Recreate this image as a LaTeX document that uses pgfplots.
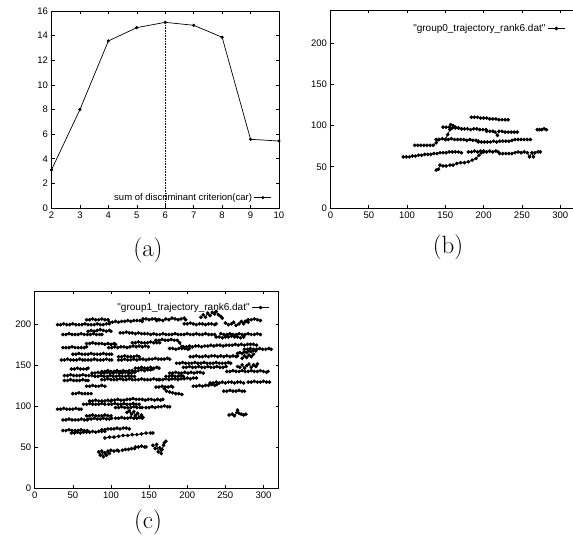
\documentclass[border=0pt]{standalone}
\usepackage{fontspec}
\usepackage{pgfplots}
\pgfplotsset{compat=1.18}
\newfontfamily\gp{Liberation Sans}

\pgfplotsset{
  gpstyle/.style={
    scale only axis, anchor=south west,
    axis line style={line width=0.8pt},
    tick style={black, line width=0.6pt},
    major tick length=3pt,
    tick label style={font=\gp\fontsize{9.5}{11}\selectfont},
    /pgf/number format/assume math mode=true,
    legend style={draw=none, fill=none, font=\gp\fontsize{9.5}{11}\selectfont},
    legend cell align=right, legend plot pos=right,
    unbounded coords=jump,
  },
  traj/.style={black, line width=0.8pt, mark=*, mark size=1.4pt},
}

\begin{document}
\begin{tikzpicture}
\path[use as bounding box] (0,0) rectangle (573pt,-539pt);

% (a) criterion curve
\begin{axis}[gpstyle, at={(51.5pt,-208pt)}, width=227.5pt, height=197pt,
  xmin=2, xmax=10, ymin=0, ymax=16,
  xtick={2,...,10}, ytick={0,2,...,16},
  legend style={at={(1,0)}, anchor=south east, xshift=-4pt, yshift=2pt}]
\addplot[black, line width=0.7pt, mark=*, mark size=1.2pt] coordinates {
  (2,3.1) (3,8.0) (4,13.57) (5,14.65) (6,15.08) (7,14.84) (8,13.87) (9,5.58) (10,5.44)
};
\addlegendentry{sum of discriminant criterion(car)}
\addplot[black, densely dotted, line width=0.6pt, forget plot] coordinates {(6,0) (6,15.08)};
\end{axis}
\node at (148pt,-250pt) {\fontsize{25}{30}\selectfont (a)};

% (b) group0 trajectories
\begin{axis}[gpstyle, at={(330.5pt,-208pt)}, width=245pt, height=198pt,
  xmin=0, xmax=320, ymin=0, ymax=240,
  xtick={0,50,...,300}, ytick={0,50,...,200},
  legend style={at={(1,1)}, anchor=north east, xshift=-7pt, yshift=-10pt,
    font=\gp\fontsize{10}{12}\selectfont}]
\addplot[traj] coordinates {
  (184,110)(188,110)(192,110)(196,109)(200,109)(204,109)(208,108)(212,108)(216,108)(220,107)(224,107)(228,107)(232,107)
  (0,nan)
  (147,98)(151,98)(155,98)(159,97)(163,97)(167,97)(171,96)
  (0,nan)
  (150,83)(153,89)(156,95)(157,101)(160,100)(163,98)(167,97)(171,96)(175,96)(179,96)(183,95)(187,96)(191,96)(195,95)(199,95)(203,95)
  (0,nan)
  (204,93)(208,93)(212,93)(215,92)(218,88)(220,93)(224,93)(228,92)(232,92)(236,92)(240,92)(244,92)
  (0,nan)
  (270,95)(273,95)(276,95)(279,96)(282,95)
  (0,nan)
  (138,83)(142,83)(146,84)(150,83)(154,83)(158,84)(162,83)(166,83)(170,83)(174,83)(178,82)(182,83)(186,82)(190,82)(193,81)
  (0,nan)
  (193,80)(197,80)(201,80)(205,80)(209,80)(213,81)(217,80)(221,81)(225,81)(229,81)(233,81)(237,82)(241,83)(245,83)(249,83)(253,83)(257,83)(261,83)
  (0,nan)
  (110,76)(114,76)(118,76)(122,76)(126,76)(130,76)(134,76)(138,79)(141,83)
  (0,nan)
  (95,62)(99,62)(103,62)(107,63)(111,63)(115,64)(119,64)(123,65)(127,65)(131,65)(135,66)(139,66)(143,67)(147,67)(151,67)(155,68)(159,68)(163,68)(167,68)(171,67)
  (0,nan)
  (180,68)(184,68)(188,69)(192,68)(196,69)(200,69)(204,68)(208,69)(212,68)(216,69)(219,68)
  (0,nan)
  (221,66)(225,66)(229,66)(233,66)(237,66)
  (0,nan)
  (241,67)(245,68)(249,67)(253,68)(257,67)(260,62)(263,67)(265,62)(267,67)(271,68)(274,68)
  (0,nan)
  (138,46)(141,47)(143,52)(147,51)(151,51)(156,52)(160,52)(165,54)(170,55)(175,55)(180,56)(185,58)(190,60)(194,64)(197,67)(200,68)
};
\addlegendentry{"group0\_trajectory\_rank6.dat"}
\end{axis}
\node at (448pt,-247pt) {\fontsize{25}{30}\selectfont (b)};

% (c) group1 trajectories
\begin{axis}[gpstyle, at={(34.7pt,-488pt)}, width=244pt, height=197pt,
  xmin=0, xmax=320, ymin=0, ymax=240,
  xtick={0,50,...,300}, ytick={0,50,...,200},
  legend style={at={(1,1)}, anchor=north east, xshift=-6pt, yshift=-8pt,
    font=\gp\fontsize{10}{12}\selectfont}]
\addplot[traj] coordinates {
  (30,199)(34,199)(38,200)(42,199)(46,199)(50,200)(54,199)(58,199)(62,199)(66,200)(70,199)(74,199)(78,199)(82,200)(86,199)(90,199)(94,200)(98,200)
  (0,nan)
  (68,205)(72,205)(76,206)(80,205)(84,205)(88,206)(92,205)(96,205)
  (0,nan)
  (98,202)(102,202)(106,203)(110,202)(114,203)(118,203)(122,204)(126,203)(130,204)(134,204)(138,204)(141,203)
  (0,nan)
  (142,206)(146,206)(150,205)(154,206)(158,206)(162,205)
  (0,nan)
  (160,204)(164,205)(168,204)(172,206)(176,205)(180,207)(184,206)(188,205)(192,206)(196,207)(198,205)
  (0,nan)
  (196,200)(200,200)(204,201)(208,200)(212,199)(216,200)(220,200)(224,199)(228,200)(232,200)(236,199)(238,200)
  (0,nan)
  (218,208)(221,211)(224,208)(227,213)(230,210)(233,214)(236,212)(238,215)(241,211)(244,209)(246,207)
  (0,nan)
  (250,201)(254,199)(258,200)(261,202)(264,198)(268,200)(271,203)(274,200)(277,203)(280,202)
  (0,nan)
  (276,203)(280,205)(284,205)(288,206)(292,205)(296,204)
  (0,nan)
  (37,187)(41,187)(45,188)(49,187)(53,187)(57,187)(61,188)(65,187)(69,187)(73,187)(77,188)(81,187)(85,187)(88,187)
  (0,nan)
  (70,191)(74,192)(78,191)(82,192)(86,193)(90,192)(94,191)(98,192)(100,191)
  (0,nan)
  (112,189)(116,189)(120,190)(124,189)(128,189)(132,188)(136,189)(140,188)(144,188)(148,188)(152,187)(156,188)(160,187)(164,187)(168,188)(172,187)(176,187)(180,187)(184,188)(188,187)(192,187)(196,187)(200,188)(204,187)(208,187)(212,188)(216,187)(220,187)(224,188)(228,187)(232,187)(236,187)
  (0,nan)
  (244,188)(248,187)(252,187)(256,188)(260,187)(264,187)(268,188)(272,187)(276,187)(280,188)(284,187)(288,187)(292,188)(296,187)
  (0,nan)
  (238,184)(242,184)(246,183)(250,184)(254,184)(258,185)(262,184)(266,184)(270,183)(274,184)
  (0,nan)
  (37,171)(41,171)(45,171)(49,172)(53,171)(57,171)(61,171)(65,171)(68,172)
  (0,nan)
  (68,176)(72,176)(76,177)(80,176)(84,176)(88,176)(92,175)(96,176)(100,175)(104,176)(106,175)
  (0,nan)
  (97,171)(101,171)(105,172)(109,171)(113,172)(117,172)(121,171)(125,172)(129,173)(133,172)(137,173)(141,172)(145,173)(149,172)
  (0,nan)
  (128,177)(132,177)(136,178)(140,177)(144,177)(148,177)(152,178)(156,177)(160,177)(164,177)
  (0,nan)
  (159,180)(163,180)(167,181)(171,180)(175,180)(179,181)(183,180)(187,180)(190,177)(193,172)
  (0,nan)
  (177,170)(181,170)(185,169)(189,170)(193,170)(197,170)(201,169)(203,170)
  (0,nan)
  (195,172)(199,172)(203,173)(207,172)(211,173)(215,173)(219,172)(223,173)(227,173)(231,174)(235,173)(239,174)(243,174)(247,173)(251,174)(255,174)(259,174)(263,175)(267,174)(271,175)(275,174)(279,175)(283,175)(287,175)(291,174)
  (0,nan)
  (275,169)(279,169)(283,170)(287,169)(291,169)(295,170)(299,169)(303,169)(307,170)(310,169)
  (0,nan)
  (266,164)(269,165)(272,164)(275,166)(278,165)(281,167)(284,166)(287,168)(290,167)
  (0,nan)
  (50,163)(54,163)(58,164)(62,163)(66,163)(70,163)(74,164)(78,163)(82,163)(86,163)(90,164)(94,163)(98,163)(101,163)
  (0,nan)
  (110,160)(114,160)(118,161)(122,160)(126,160)(130,160)(134,161)(137,160)
  (0,nan)
  (35,156)(39,156)(43,157)(47,156)(51,156)(55,156)(59,157)(63,156)(66,156)
  (0,nan)
  (70,156)(74,156)(78,157)(82,156)(86,156)(90,156)(94,157)(98,156)(101,156)
  (0,nan)
  (110,156)(114,156)(118,157)(122,156)(126,156)(130,157)(134,156)(138,157)(142,157)(146,156)(150,157)(154,157)(158,158)(162,157)(166,157)(170,157)(174,158)(177,157)
  (0,nan)
  (204,160)(208,160)(212,161)(216,160)(220,160)(224,161)(228,160)(232,161)(236,161)(240,160)(244,161)(248,160)(252,161)(256,160)(260,161)(264,160)(266,161)
  (0,nan)
  (186,152)(190,152)(194,153)(198,152)(202,152)(206,152)(210,153)(214,152)(218,152)(222,153)(226,152)(230,152)(234,152)(238,153)(242,152)(246,152)(250,152)(254,153)(257,152)
  (0,nan)
  (195,147)(199,147)(203,148)(207,147)(211,147)(215,148)(219,147)(223,147)(227,148)(231,147)(235,147)(239,148)(243,147)(247,147)(251,148)
  (0,nan)
  (266,148)(269,147)(272,150)(275,146)(278,149)(281,151)(284,147)(287,150)(290,148)(292,151)
  (0,nan)
  (272,158)(275,161)(278,159)(281,162)(284,160)(287,163)
  (0,nan)
  (252,142)(256,142)(260,143)(264,142)(268,142)(272,143)(276,142)(280,142)(284,143)(288,142)(292,142)(296,143)(300,142)(304,141)(306,142)
  (0,nan)
  (48,145)(52,145)(56,146)(60,145)(64,145)(68,145)(70,146)
  (0,nan)
  (75,140)(79,140)(83,141)(87,140)(91,140)(95,141)(99,140)(103,140)(107,141)(111,140)(115,140)(119,141)(123,140)(127,140)(131,141)
  (0,nan)
  (88,142)(92,142)(96,143)(100,142)(104,142)(108,143)(112,142)(116,143)(120,142)(124,143)(128,143)(132,142)(136,143)(140,144)(144,143)(148,144)(152,144)(155,145)
  (0,nan)
  (132,146)(136,146)(140,147)(144,146)(148,146)(152,147)(156,146)(160,147)(163,146)
  (0,nan)
  (39,137)(43,137)(47,138)(51,137)(55,137)(59,137)(63,138)(67,137)(71,137)(75,137)
  (0,nan)
  (79,136)(83,136)(87,137)(91,136)(95,136)(99,137)(103,136)(107,136)(111,137)(115,136)(119,136)(123,137)(127,136)(131,136)
  (0,nan)
  (39,131)(43,131)(47,132)(51,131)(55,131)(59,131)(63,132)(67,131)(70,131)
  (0,nan)
  (88,132)(92,132)(96,133)(100,132)(104,132)(108,132)(112,133)(116,132)(120,132)(124,133)(128,132)(132,132)(136,132)(140,133)(144,132)(148,132)(152,132)(156,133)(160,132)(163,132)
  (0,nan)
  (164,132)(168,132)(172,133)(176,132)(180,133)(184,133)(188,132)(192,133)(196,133)(200,134)(204,133)(208,134)(212,134)
  (0,nan)
  (172,136)(176,136)(180,137)(184,136)(188,136)(192,137)(195,136)
  (0,nan)
  (177,140)(181,140)(185,141)(189,140)(193,140)(197,141)(201,140)(205,141)(209,140)(213,141)(217,141)(221,140)
  (0,nan)
  (68,124)(72,124)(76,125)(80,124)(84,124)(88,125)(92,124)
  (0,nan)
  (208,124)(212,124)(216,125)(220,124)(224,125)(228,125)(232,126)(236,125)(239,126)
  (0,nan)
  (230,128)(234,128)(238,129)(242,128)(246,129)(250,128)(254,129)(258,129)(262,128)(266,129)(270,129)(274,128)
  (0,nan)
  (280,129)(284,129)(288,130)(292,129)(296,129)(300,130)(304,129)(308,129)
  (0,nan)
  (159,123)(163,123)(167,124)(171,123)(175,123)(179,124)(181,123)
  (0,nan)
  (248,118)(252,118)(256,119)(260,118)(264,118)(268,119)(272,118)(275,118)
  (0,nan)
  (170,121)(173,118)(177,117)(181,116)(185,115)(189,115)(193,114)
  (0,nan)
  (50,115)(54,115)(58,116)(62,115)(66,115)(70,115)(74,115)
  (0,nan)
  (72,106)(76,106)(80,107)(84,106)(88,106)(92,106)(96,107)(100,106)
  (0,nan)
  (101,107)(105,107)(109,108)(113,107)(117,107)(121,108)(125,108)(129,109)(133,108)(137,108)(141,108)(145,107)(149,108)(153,108)(157,107)(161,108)(165,107)(168,108)
  (0,nan)
  (64,102)(68,102)(72,103)(76,102)(80,102)(84,102)(88,103)(92,102)
  (0,nan)
  (97,102)(101,102)(105,103)(109,102)(113,102)(117,103)(121,102)(125,102)(129,103)(133,102)(137,102)
  (0,nan)
  (106,98)(110,98)(114,99)(118,98)(122,98)(126,98)(130,99)(134,98)(138,98)(141,98)
  (0,nan)
  (146,98)(150,98)(154,99)(158,98)(162,99)(166,99)(170,100)(174,99)(177,99)
  (0,nan)
  (30,96)(34,96)(38,97)(42,96)(46,96)(50,96)(54,97)(58,96)(61,96)
  (0,nan)
  (121,92)(124,94)(127,90)(130,93)(132,88)(135,91)(137,86)(140,89)(142,86)
  (0,nan)
  (68,88)(72,88)(76,89)(80,88)(84,88)(88,88)(92,89)(96,88)(100,88)
  (0,nan)
  (106,85)(110,85)(114,86)(118,85)(122,85)(126,86)(130,85)(134,85)(138,86)(141,85)
  (0,nan)
  (37,83)(41,83)(45,84)(49,83)(53,83)(57,83)(61,84)(65,83)(69,83)
  (0,nan)
  (70,84)(74,84)(78,85)(82,84)(86,84)(90,85)(94,84)(98,84)(101,85)
  (0,nan)
  (255,89)(259,90)(262,88)(265,92)(266,95)(268,91)(271,90)(274,89)(277,90)
  (0,nan)
  (37,70)(41,70)(45,71)(49,70)(53,70)(57,70)(61,71)(65,70)(69,70)
  (0,nan)
  (48,67)(52,67)(56,68)(60,67)(64,68)(68,68)(72,68)(76,69)(80,68)(84,69)(88,69)(92,69)
  (0,nan)
  (88,71)(92,71)(96,72)(100,72)(104,72)(108,73)(112,72)(116,73)(120,73)(124,72)
  (0,nan)
  (92,61)(98,62)(104,62)(110,63)(116,64)(122,64)(128,65)(134,65)(140,66)(146,67)(152,67)(155,67)
  (0,nan)
  (84,44)(86,40)(88,45)(90,38)(92,43)(94,40)(96,45)(98,42)(100,46)(104,45)(108,46)(110,45)
  (0,nan)
  (115,46)(119,47)(123,47)(127,48)(131,48)
  (0,nan)
  (132,50)(136,50)(140,51)(144,50)(146,50)
  (0,nan)
  (155,52)(158,48)(160,53)(162,44)(164,49)(166,42)(167,47)(169,52)(170,55)(172,57)
};
\addlegendentry{"group1\_trajectory\_rank6.dat"}
\end{axis}
\node at (148pt,-522pt) {\fontsize{25}{30}\selectfont (c)};
\end{tikzpicture}
\end{document}
